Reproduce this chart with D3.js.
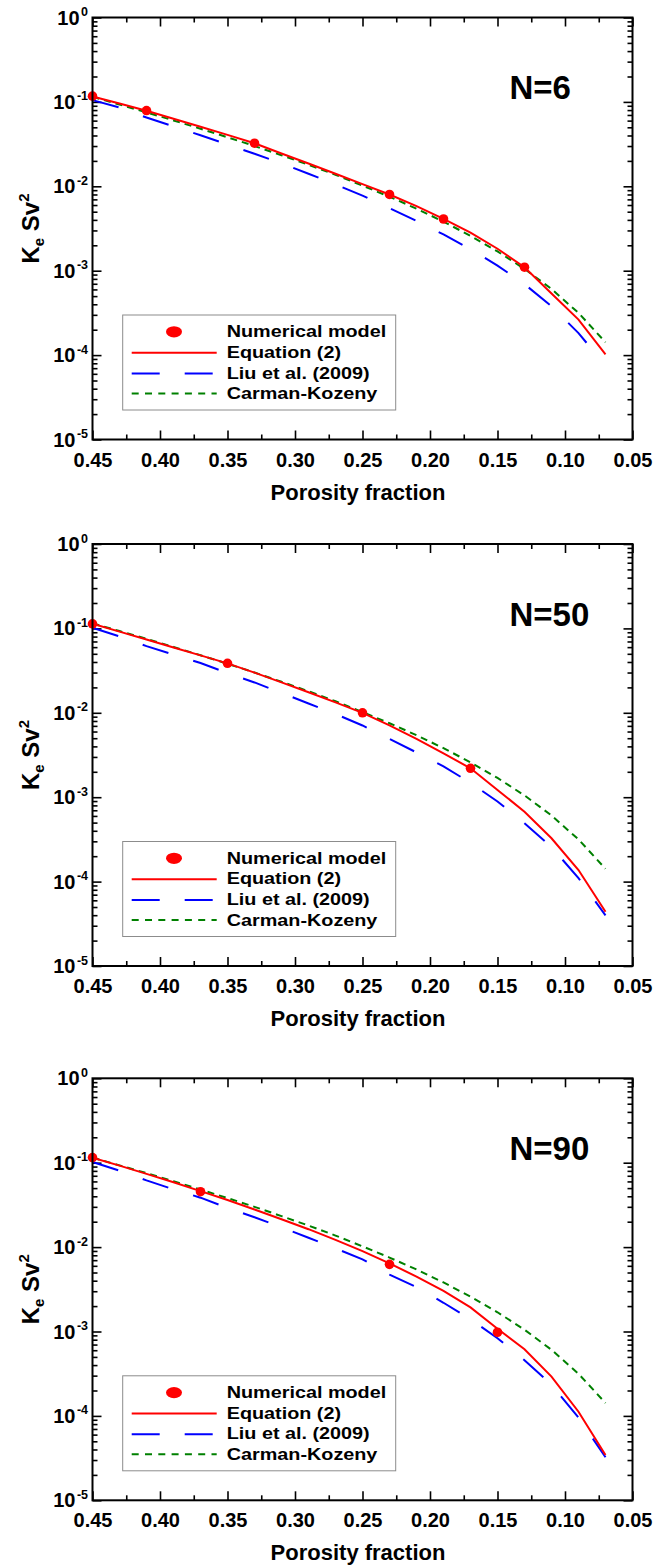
<!DOCTYPE html>
<html>
<head>
<meta charset="utf-8">
<script src="https://cdn.jsdelivr.net/npm/d3@7"></script>
<style>
  body { margin: 0; background: #fff; }
  svg { display: block; }
  text { font-family: "Liberation Sans", Arial, Helvetica, sans-serif; font-weight: bold; fill: #000; }
</style>
</head>
<body>
<svg id="chart" width="668" height="1566"></svg>
<script>
// Porosity grid shared by the model curves
const porosity = [0.45, 0.43, 0.41, 0.39, 0.37, 0.35, 0.33, 0.31, 0.29, 0.27,
                  0.25, 0.23, 0.21, 0.19, 0.17, 0.15, 0.13, 0.11, 0.09, 0.07];
const porosityLiuN6 = [0.45, 0.43, 0.41, 0.39, 0.37, 0.35, 0.33, 0.31, 0.29, 0.27,
                       0.25, 0.23, 0.21, 0.19, 0.17, 0.15, 0.13, 0.11, 0.09, 0.08];

// Carman-Kozeny (same in every panel)
const carmanKozeny = [0.115, 0.0930, 0.0752, 0.0603, 0.0481, 0.0381, 0.0300, 0.0233, 0.0180, 0.0137,
                      0.0102, 0.00752, 0.00543, 0.00381, 0.00259, 0.00169, 0.00105, 0.000607, 0.000316, 0.000142];

// N = 6
const equation2N6 = [0.116, 0.0955, 0.0785, 0.0631, 0.0507, 0.0407, 0.0324, 0.0245, 0.0186, 0.0141,
                     0.0106, 0.0080, 0.00582, 0.00412, 0.00282, 0.00182, 0.00110, 0.000537, 0.000263, 0.000102];
const liuN6 = [0.105, 0.0857, 0.0653, 0.0513, 0.0403, 0.0313, 0.0243, 0.0187, 0.0141, 0.0105,
               0.00776, 0.00550, 0.00389, 0.00269, 0.00180, 0.00115, 0.000692, 0.000380, 0.000182, 0.000117];
const numericalPhiN6 = [0.45, 0.41, 0.33, 0.23, 0.19, 0.13];
const numericalN6 = [0.117, 0.079, 0.0324, 0.0080, 0.0041, 0.0011];

// N = 50
const equation2N50 = [0.1135, 0.0916, 0.0738, 0.0594, 0.0479, 0.0385, 0.0299, 0.0229, 0.0175, 0.0133,
                      0.0100, 0.00708, 0.00490, 0.00331, 0.00220, 0.00122, 0.000673, 0.000326, 0.000137, 0.0000440];
const liuN50 = [0.102, 0.0804, 0.0617, 0.0490, 0.0389, 0.0295, 0.0229, 0.0172, 0.0129, 0.00966,
                0.00708, 0.00490, 0.00339, 0.00232, 0.00148, 0.000891, 0.000490, 0.000257, 0.000110, 0.0000398];
const numericalPhiN50 = [0.45, 0.35, 0.25, 0.17];
const numericalN50 = [0.113, 0.0386, 0.0100, 0.0022];

// N = 90
const equation2N90 = [0.1146, 0.0923, 0.0738, 0.0586, 0.0461, 0.0361, 0.0279, 0.0214, 0.0163, 0.01216,
                      0.00895, 0.00640, 0.00448, 0.00302, 0.00193, 0.00108, 0.000615, 0.000292, 0.000112, 0.0000344];
const liuN90 = [0.102, 0.0804, 0.0617, 0.0484, 0.0385, 0.0292, 0.0226, 0.0172, 0.0129, 0.00966,
                0.00716, 0.00473, 0.00335, 0.00219, 0.00140, 0.000832, 0.000457, 0.000234, 0.0000955, 0.0000324];
const numericalPhiN90 = [0.45, 0.37, 0.23, 0.15];
const numericalN90 = [0.115, 0.0453, 0.00625, 0.00098];

// Axis ticks and labels
const xMajorTicks = [0.45, 0.40, 0.35, 0.30, 0.25, 0.20, 0.15, 0.10, 0.05];
const xMinorTicks = [0.425, 0.375, 0.325, 0.275, 0.225, 0.175, 0.125, 0.075];
const yDecadeExponents = [0, -1, -2, -3, -4, -5];
const legendLabels = ["Numerical model", "Equation (2)", "Liu et al. (2009)", "Carman-Kozeny"];
const panelTitles = ["N=6", "N=50", "N=90"];

const panels = [
  { title: panelTitles[0], top: 17.5,  eq: equation2N6,  liuPhi: porosityLiuN6, liu: liuN6,  numPhi: numericalPhiN6,  num: numericalN6 },
  { title: panelTitles[1], top: 544,   eq: equation2N50, liuPhi: porosity,      liu: liuN50, numPhi: numericalPhiN50, num: numericalN50 },
  { title: panelTitles[2], top: 1078.3, eq: equation2N90, liuPhi: porosity,     liu: liuN90, numPhi: numericalPhiN90, num: numericalN90 }
];

const LEFT = 92.5, RIGHT = 632.5, HEIGHT = 422;
const RED = "#ff0000", BLUE = "#0000ff", GREEN = "#008000";
const svg = d3.select("#chart");

const x = d3.scaleLinear().domain([0.45, 0.05]).range([LEFT, RIGHT]);

panels.forEach(p => {
  const top = p.top, bottom = top + HEIGHT;
  const y = d3.scaleLog().domain([1e-5, 1]).range([bottom, top]);
  const g = svg.append("g");

  const yMinor = [];
  for (let e = -5; e < 0; e++) for (let k = 2; k <= 9; k++) yMinor.push(k * Math.pow(10, e));
  const yMajor = yDecadeExponents.map(e => Math.pow(10, e));

  // inward ticks on all four sides
  const tickStyle = sel => { sel.select(".domain").remove(); sel.selectAll("line").attr("stroke", "#000").attr("stroke-width", 1.6); };

  g.append("g").attr("transform", `translate(0,${bottom})`)
    .call(d3.axisBottom(x).tickValues(xMajorTicks).tickSize(-9).tickPadding(13).tickFormat(d3.format(".2f")))
    .call(tickStyle)
    .call(a => a.selectAll("text").attr("font-size", 20).attr("font-family", null).attr("fill", "#000"));
  g.append("g").attr("transform", `translate(0,${bottom})`)
    .call(d3.axisBottom(x).tickValues(xMinorTicks).tickSize(-5).tickFormat(""))
    .call(tickStyle);
  g.append("g").attr("transform", `translate(0,${top})`)
    .call(d3.axisTop(x).tickValues(xMajorTicks).tickSize(-9).tickFormat(""))
    .call(tickStyle);
  g.append("g").attr("transform", `translate(0,${top})`)
    .call(d3.axisTop(x).tickValues(xMinorTicks).tickSize(-5).tickFormat(""))
    .call(tickStyle);

  g.append("g").attr("transform", `translate(${LEFT},0)`)
    .call(d3.axisLeft(y).tickValues(yMajor).tickSize(-9).tickFormat(""))
    .call(tickStyle);
  g.append("g").attr("transform", `translate(${LEFT},0)`)
    .call(d3.axisLeft(y).tickValues(yMinor).tickSize(-5).tickFormat(""))
    .call(tickStyle);
  g.append("g").attr("transform", `translate(${RIGHT},0)`)
    .call(d3.axisRight(y).tickValues(yMajor).tickSize(-9).tickFormat(""))
    .call(tickStyle);
  g.append("g").attr("transform", `translate(${RIGHT},0)`)
    .call(d3.axisRight(y).tickValues(yMinor).tickSize(-5).tickFormat(""))
    .call(tickStyle);

  // power-of-ten labels
  yDecadeExponents.forEach(e => {
    const t = g.append("text").attr("x", 88).attr("y", y(Math.pow(10, e)) + 7)
      .attr("text-anchor", "end").attr("font-size", 20);
    t.append("tspan").text("10");
    t.append("tspan").attr("font-size", 12.5).attr("dx", 1.5).attr("dy", -8.5).text(e === 0 ? "0" : "-" + Math.abs(e));
  });

  // axis titles
  g.append("text").attr("x", 358).attr("y", bottom + 60).attr("text-anchor", "middle")
    .attr("font-size", 22).text("Porosity fraction");
  const yt = g.append("text").attr("transform", `translate(39,${(top + bottom) / 2}) rotate(-90)`)
    .attr("text-anchor", "middle").attr("font-size", 24);
  yt.append("tspan").text("K");
  yt.append("tspan").attr("font-size", 15).attr("dy", 5).text("e");
  yt.append("tspan").attr("dy", -5).text(" Sv");
  yt.append("tspan").attr("font-size", 15).attr("dy", -10).text("2");

  // curves
  const line = d3.line().x(d => x(d[0])).y(d => y(d[1]));
  g.append("path").datum(d3.zip(porosity, carmanKozeny)).attr("d", line)
    .attr("fill", "none").attr("stroke", GREEN).attr("stroke-width", 2).attr("stroke-dasharray", "7,5");
  g.append("path").datum(d3.zip(p.liuPhi, p.liu)).attr("d", line)
    .attr("fill", "none").attr("stroke", BLUE).attr("stroke-width", 2).attr("stroke-dasharray", "27,26");
  g.append("path").datum(d3.zip(porosity, p.eq)).attr("d", line)
    .attr("fill", "none").attr("stroke", RED).attr("stroke-width", 2);
  g.selectAll("circle.pt").data(d3.zip(p.numPhi, p.num)).join("circle").attr("class", "pt")
    .attr("cx", d => x(d[0])).attr("cy", d => y(d[1])).attr("r", 4.8).attr("fill", RED);

  // frame
  g.append("rect").attr("x", LEFT).attr("y", top).attr("width", RIGHT - LEFT).attr("height", HEIGHT)
    .attr("fill", "none").attr("stroke", "#000").attr("stroke-width", 2);

  // panel label
  g.append("text").attr("x", 509.5).attr("y", top + 81.5).attr("font-size", 33).text(p.title);

  // legend
  const lg = g.append("g");
  lg.append("rect").attr("x", 122.7).attr("y", top + 297.5).attr("width", 273).attr("height", 95)
    .attr("fill", "#fff").attr("stroke", "#8c8c8c").attr("stroke-width", 1);
  const rows = [top + 319.8, top + 340.4, top + 361.1, top + 381.8];
  lg.append("ellipse").attr("cx", 174).attr("cy", rows[0] - 5.5).attr("rx", 8).attr("ry", 5.6).attr("fill", RED);
  lg.append("line").attr("x1", 131.7).attr("x2", 216.7).attr("y1", rows[1] - 5.2).attr("y2", rows[1] - 5.2)
    .attr("stroke", RED).attr("stroke-width", 2);
  lg.append("line").attr("x1", 131.7).attr("x2", 213.5).attr("y1", rows[2] - 5.2).attr("y2", rows[2] - 5.2)
    .attr("stroke", BLUE).attr("stroke-width", 2).attr("stroke-dasharray", "28,25");
  lg.append("line").attr("x1", 131.7).attr("x2", 216.7).attr("y1", rows[3] - 5.8).attr("y2", rows[3] - 5.8)
    .attr("stroke", GREEN).attr("stroke-width", 2).attr("stroke-dasharray", "7,6.3");
  legendLabels.forEach((lab, i) => {
    lg.append("text").attr("transform", `translate(226.7,${rows[i]}) scale(1.2,1)`)
      .attr("font-size", 16.5).text(lab);
  });
});
</script>
</body>
</html>
